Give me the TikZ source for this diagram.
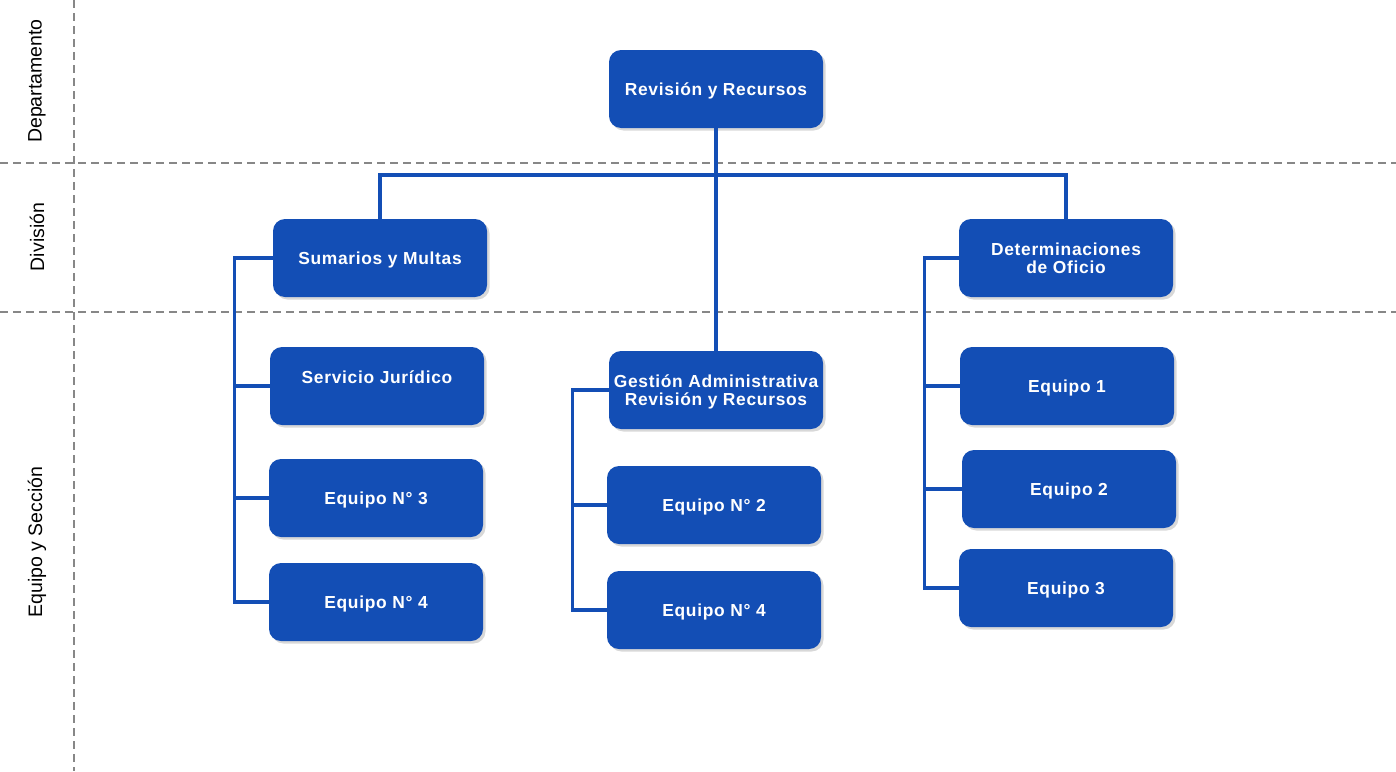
\documentclass[tikz,border=0pt]{standalone}
\usepackage{fontspec}
\setmainfont{Liberation Sans}
\newfontfamily\boxfont{Liberation Sans}[LetterSpace=4]
\usetikzlibrary{shadows}
\definecolor{boxblue}{RGB}{19,78,181}
\definecolor{rulegray}{RGB}{135,135,135}
\begin{document}
\begin{tikzpicture}
		[x=1pt,y=-1pt,
		box/.style={rectangle,rounded corners=12pt,fill=boxblue,text=white,
			minimum width=214pt,minimum height=78pt,inner sep=0pt,align=center,
			text depth=0pt,
			font=\boxfont\bfseries\fontsize{17.4}{18}\selectfont,
			drop shadow={shadow xshift=2.5pt,shadow yshift=-2.5pt,opacity=.3}},
		link/.style={draw=boxblue,line width=3.2pt},
		lane/.style={draw=rulegray,line width=1.3pt,dash pattern=on 8pt off 5pt},
		lanelabel/.style={rotate=90,font=\fontsize{19.5}{21}\selectfont}]
		\useasboundingbox (0,0) rectangle (1396,771);
		\fill[white] (0,0) rectangle (1396,771);
		
		% lanes
		\draw[lane] (74,0) -- (74,771);
		\draw[lane] (0,163) -- (1396,163);
		\draw[lane] (0,312) -- (1396,312);
		\node[lanelabel] (l1) at (37,81) {Departamento};
		\node[lanelabel] (l2) at (37,237) {División};
		\node[lanelabel] (l3) at (37,542) {Equipo y Sección};
		
		% boxes
		\node[box] (n1) at (716,89) {Revisión y Recursos};
		\node[box] (n2) at (380,258) {Sumarios y Multas};
		\node[box] (n3) at (1066,258) {Determinaciones\\de Oficio};
		\node[box] (n4) at (377,386) {Servicio Jurídico\\\mbox{}};
		\node[box] (n5) at (376,498) {Equipo N° 3};
		\node[box] (n6) at (376,602) {Equipo N° 4};
		\node[box] (n7) at (716,390) {Gestión Administrativa\\Revisión y Recursos};
		\node[box] (n8) at (714,505) {Equipo N° 2};
		\node[box] (n9) at (714,610) {Equipo N° 4};
		\node[box] (n10) at (1067,386) {Equipo 1};
		\node[box] (n11) at (1069,489) {Equipo 2};
		\node[box] (n12) at (1066,588) {Equipo 3};
		
		% connectors
		\coordinate (bus) at (716,175);
		\draw[link] (n1.south) -- (n7.north);
		\draw[link] (n2.north) |- (bus) -| (n3.north);
		\foreach \from/\to/\d in
		{n2/n4/38, n2/n5/38, n2/n6/38, n7/n8/36, n7/n9/36,
		 n3/n10/34, n3/n11/34, n3/n12/34}
		\draw[link] (\from.west) -- ++(-\d,0) |- (\to.west);
		\end{tikzpicture}
\end{document}
